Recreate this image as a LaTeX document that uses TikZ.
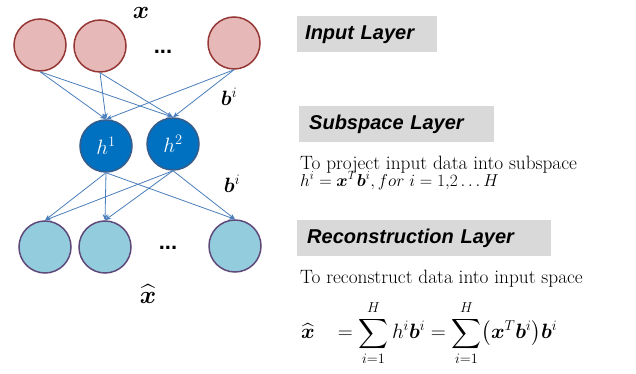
\documentclass[tikz,border=0pt]{standalone}
\usepackage{amsmath}
\usepackage{bm}
\usepackage{fontspec}
\newfontfamily\arialfont{Liberation Sans}
\usetikzlibrary{arrows.meta}
\definecolor{topfill}{HTML}{E6B9B8}
\definecolor{topdraw}{HTML}{953735}
\definecolor{hidfill}{HTML}{0070C0}
\definecolor{hiddraw}{HTML}{385D8A}
\definecolor{botfill}{HTML}{93CDDD}
\definecolor{botdraw}{HTML}{5F497A}
\definecolor{arrowc}{HTML}{4A7EBB}
\definecolor{boxgray}{HTML}{D9D9D9}
\begin{document}
\begin{tikzpicture}[x=1pt,y=-1pt,
  neuron/.style={circle,minimum size=52pt,inner sep=0pt,line width=1.5pt},
  inneuron/.style={neuron,fill=topfill,draw=topdraw},
  hidneuron/.style={neuron,fill=hidfill,draw=hiddraw,text=white,font=\fontsize{22}{26}\selectfont},
  outneuron/.style={neuron,fill=botfill,draw=botdraw},
  conn/.style={draw=arrowc,line width=0.8pt,-{Stealth[length=6pt,width=5pt]}},
  layerbox/.style={fill=boxgray,anchor=north west,minimum height=36pt,align=left,inner ysep=0pt,
    font=\arialfont\bfseries\itshape\fontsize{20}{24}\selectfont},
  dotsstyle/.style={inner sep=0pt,font=\arialfont\bfseries\fontsize{22}{26}\selectfont},
  desc/.style={anchor=base west,inner sep=0pt,font=\fontsize{19.3}{23}\selectfont}
]
\useasboundingbox (0,0) rectangle (636,374);
% input layer
\node[inneuron] (t1) at (40,45) {};
\node[inneuron] (t2) at (100,46) {};
\node[inneuron] (t3) at (234,43) {};
\node[dotsstyle,anchor=base] (tdots) at (163,54) {...};
\node[inner sep=0pt,font=\fontsize{24}{28}\selectfont] (xlab) at (141,13) {$\bm{x}$};
% hidden layer
\node[hidneuron] (h1) at (106,146) {$h^1$};
\node[hidneuron] (h2) at (173,144) {$h^2$};
% output layer
\node[outneuron] (o1) at (45,247) {};
\node[outneuron] (o2) at (105,247) {};
\node[outneuron] (o3) at (235,246) {};
\node[dotsstyle,anchor=base] (odots) at (168,249) {...};
\node[inner sep=0pt,font=\fontsize{24}{28}\selectfont] (xhat) at (148,294) {$\widehat{\bm{x}}$};
% weight labels
\node[inner sep=0pt,font=\fontsize{22}{26}\selectfont] (b1) at (229,97) {$\bm{b}^i$};
\node[inner sep=0pt,font=\fontsize{22}{26}\selectfont] (b2) at (232,184) {$\bm{b}^i$};
% connections
\foreach \s in {t1,t2,t3}{
  \draw[conn] (\s.south) -- (h1.north);
  \draw[conn] (\s.south) -- (h2.north);
}
\foreach \d in {o1,o2,o3}{
  \draw[conn] (h1.south) -- (\d.north);
  \draw[conn] (h2.south) -- (\d.north);
}
% right panel
\node[layerbox,minimum width=140pt,text width=124pt,inner xsep=8pt] (inbox) at (297,16) {Input Layer};
\node[layerbox,minimum width=195pt,text width=175pt,inner xsep=10pt] (subbox) at (299,106) {Subspace Layer};
\node[desc] (subtxt) at (300,169) {To project input data into subspace};
\node[anchor=base west,inner sep=0pt,font=\fontsize{16.5}{19}\selectfont] (subeq) at (300,186)
  {$h^i=\bm{x}^T\bm{b}^i, for\ i=1{,}2\ldots H$};
\node[layerbox,minimum width=254pt,text width=234pt,inner xsep=10pt] (recbox) at (297,220) {Reconstruction Layer};
\node[desc] (rectxt) at (300,283) {To reconstruct data into input space};
\node[anchor=west,inner sep=0pt,font=\fontsize{22}{26}\selectfont] (receq) at (301,333)
  {$\displaystyle \widehat{\bm{x}}\;\;\;=\sum_{i=1}^{H} h^i\bm{b}^i=\sum_{i=1}^{H}\bigl(\bm{x}^T\bm{b}^i\bigr)\bm{b}^i$};
\end{tikzpicture}
\end{document}
